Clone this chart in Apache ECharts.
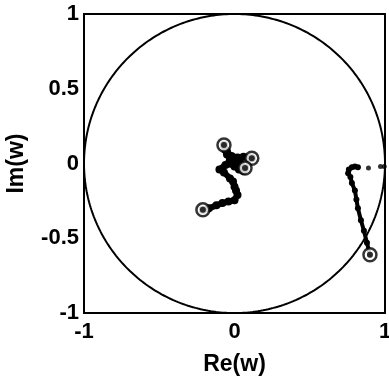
<!DOCTYPE html>
<html>
<head>
<meta charset="utf-8">
<script src="https://cdn.jsdelivr.net/npm/echarts@6/dist/echarts.min.js"></script>
<style>html,body{margin:0;padding:0;background:#fff}#c{width:389px;height:376px}</style>
</head>
<body>
<div id="c"></div>
<script>
// tick labels
var xTicks = [-1, 0, 1];
var yTicks = [-1, -0.5, 0, 0.5, 1];

// central trajectory (Re, Im)
var centerRe = [-0.21, -0.17, -0.12, -0.08, -0.04, 0.0, 0.02, 0.01, 0.0, -0.01, -0.03, -0.07, -0.1, -0.06, -0.03, 0.0, 0.03, 0.06, 0.07, 0.04, 0.0, -0.04, -0.03, 0.01, -0.03, -0.05, -0.06, -0.07, -0.05, -0.02, 0.02, 0.06, 0.115];
var centerIm = [-0.31, -0.30, -0.28, -0.265, -0.255, -0.245, -0.21, -0.18, -0.155, -0.12, -0.1, -0.06, -0.04, -0.01, 0.0, -0.02, -0.04, -0.05, -0.03, 0.0, 0.01, 0.0, 0.04, 0.02, 0.03, 0.06, 0.09, 0.124, 0.08, 0.05, 0.04, 0.045, 0.035];

// right trajectory
var rightRe = [0.90, 0.88, 0.86, 0.84, 0.82, 0.81, 0.80, 0.78, 0.77, 0.755, 0.76, 0.78, 0.80, 0.82];
var rightIm = [-0.61, -0.53, -0.45, -0.38, -0.30, -0.24, -0.18, -0.13, -0.09, -0.065, -0.04, -0.025, -0.02, -0.025];

// isolated dots to the right
var dotRe = [0.89, 0.97, 0.995];
var dotIm = [-0.03, -0.02, -0.02];

// open-circle end markers
var ringRe = [-0.21, -0.07, 0.115, 0.07, 0.90];
var ringIm = [-0.31, 0.124, 0.035, -0.03, -0.61];

function zip(a, b) { return a.map(function (v, i) { return [v, b[i]]; }); }

// unit circle reference curve
var circle = [];
for (var k = 0; k <= 360; k++) {
  var t = k * Math.PI / 180;
  circle.push([Math.cos(t), Math.sin(t)]);
}

var font = 'Liberation Sans';
var chart = echarts.init(document.getElementById('c'));
chart.setOption({
  animation: false,
  grid: { left: 84, top: 14, width: 301, height: 299, outerBoundsMode: 'none', containLabel: false, show: true, borderColor: '#000', borderWidth: 2, backgroundColor: 'transparent' },
  xAxis: {
    type: 'value', min: -1, max: 1, interval: 1,
    name: 'Re(w)', nameLocation: 'middle', nameGap: 40,
    nameTextStyle: { color: '#000', fontFamily: font, fontWeight: 'bold', fontSize: 23 },
    axisLine: { show: false }, axisTick: { show: false }, splitLine: { show: false },
    axisLabel: { color: '#000', fontFamily: font, fontWeight: 'bold', fontSize: 22, margin: 8,
      formatter: function (v) { return xTicks.indexOf(v) >= 0 ? String(v) : ''; } }
  },
  yAxis: {
    type: 'value', min: -1, max: 1, interval: 0.5,
    name: 'Im(w)', nameLocation: 'middle', nameGap: 56, nameRotate: 90,
    nameTextStyle: { color: '#000', fontFamily: font, fontWeight: 'bold', fontSize: 23 },
    axisLine: { show: false }, axisTick: { show: false }, splitLine: { show: false },
    axisLabel: { color: '#000', fontFamily: font, fontWeight: 'bold', fontSize: 22, margin: 5,
      formatter: function (v) { return yTicks.indexOf(v) >= 0 ? String(v) : ''; } }
  },
  series: [
    { type: 'line', data: circle, showSymbol: false, lineStyle: { color: '#000', width: 2 }, silent: true },
    { type: 'line', data: zip(centerRe, centerIm), symbol: 'circle', symbolSize: 8, itemStyle: { color: '#000' }, lineStyle: { color: '#000', width: 6 } },
    { type: 'line', data: zip(rightRe, rightIm), symbol: 'circle', symbolSize: 6, itemStyle: { color: '#000' }, lineStyle: { color: '#000', width: 4 } },
    { type: 'scatter', data: zip(dotRe, dotIm), symbol: 'circle', symbolSize: 5, itemStyle: { color: '#000' } },
    { type: 'scatter', data: zip(ringRe, ringIm), symbol: 'circle', symbolSize: 13, itemStyle: { color: '#fff', borderColor: '#000', borderWidth: 2.5 }, z: 5 },
    { type: 'scatter', data: zip(ringRe, ringIm), symbol: 'circle', symbolSize: 6, itemStyle: { color: '#000' }, z: 6 }
  ]
});
</script>
</body>
</html>
